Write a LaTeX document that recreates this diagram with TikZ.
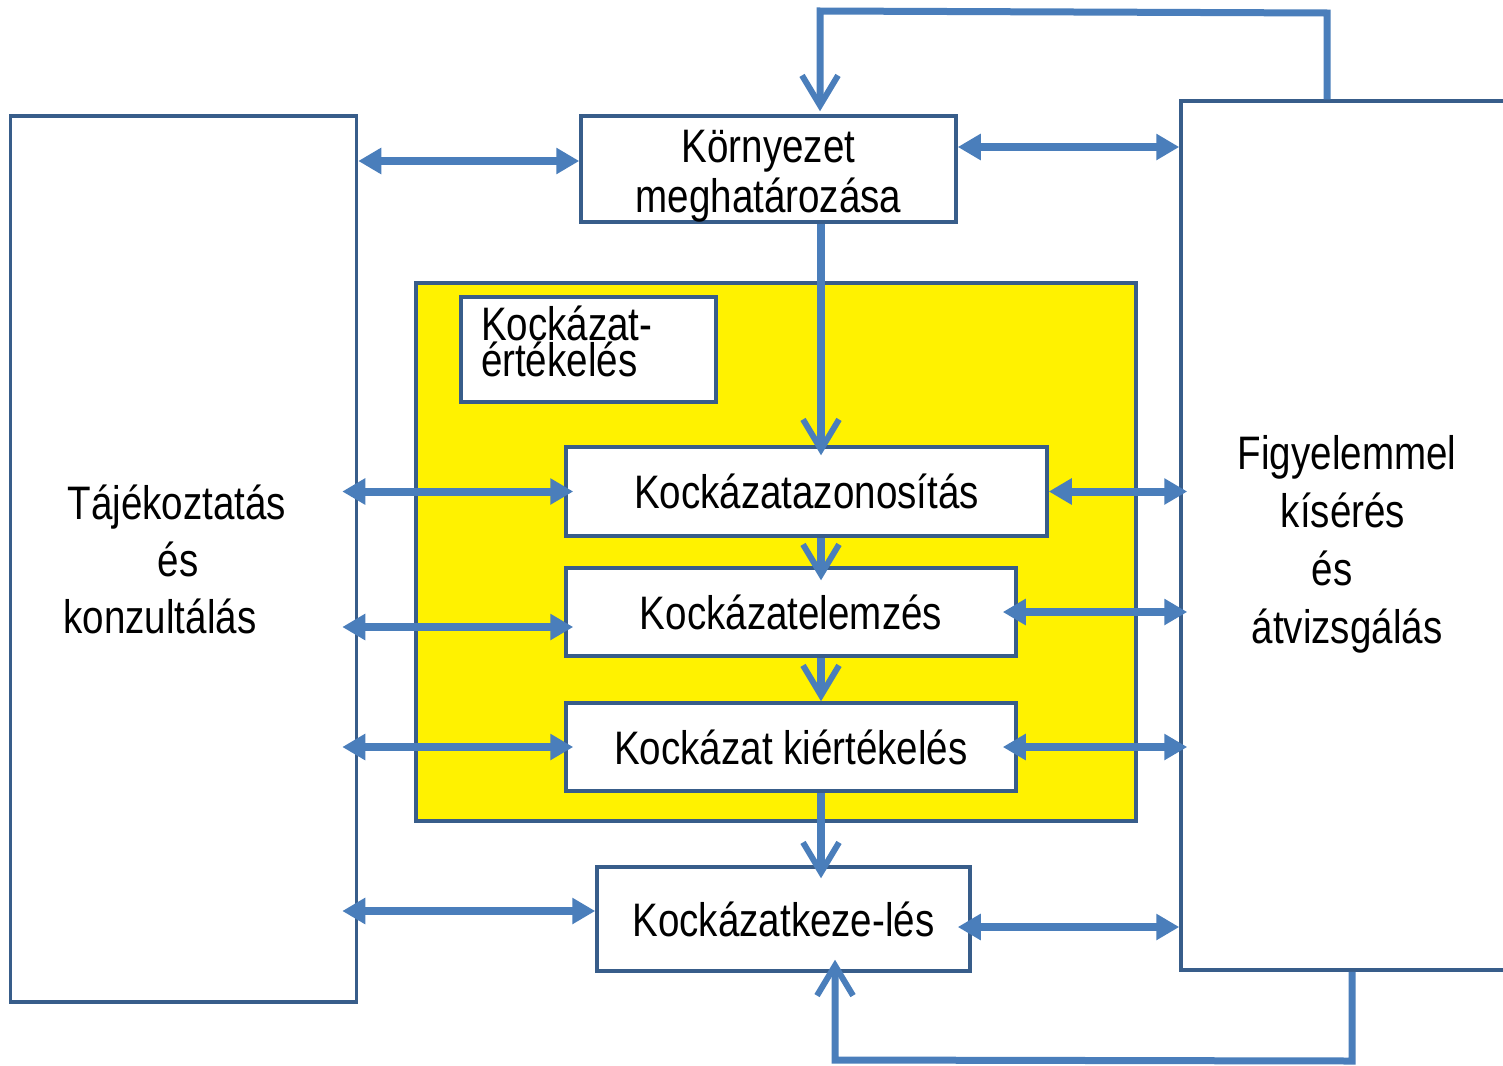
\documentclass[tikz,border=0pt]{standalone}
\usepackage{fontspec}
\setmainfont{Liberation Sans}[FakeStretch=0.82]
\usetikzlibrary{arrows.meta,calc}
\definecolor{bord}{RGB}{56,93,138}
\definecolor{arr}{RGB}{74,126,187}
\begin{document}
\begin{tikzpicture}[x=1pt,y=-1pt,
  box/.style={draw=bord,line width=3.5pt,fill=white,inner sep=0pt,align=center,
    font=\fontsize{47}{57}\selectfont},
  dbl/.style={draw=arr,line width=8pt,
    {Triangle[length=23pt,width=25pt]}-{Triangle[length=23pt,width=25pt]}},
  vtip/.style={-{Straight Barb[length=30pt,width=36pt,line width=6pt]}},
  vln/.style={draw=arr,line width=8pt,vtip},
  lp/.style={draw=arr,line width=7pt,line join=miter,vtip}]
\clip (0,0) rectangle (1503,1065);
\fill[white] (0,0) rectangle (1503,1065);

% boxes
\node[box,minimum width=346pt,minimum height=886pt] (left) at (183.5,559)
  {Tájékoztatás\kern13pt\\és\kern11pt\\konzultálás\kern47pt};
\node[box,minimum width=375pt,minimum height=104pt,font=\fontsize{47}{50}\selectfont,
  text height=96pt,text depth=10pt]
  (korny) at (768.5,169) {Környezet\\meghatározása};
\node[box,fill=yellow,minimum width=720pt,minimum height=538pt] (yel) at (776,552) {};
\node[box,minimum width=255pt,minimum height=105pt,text width=215pt,align=left,
  font=\fontsize{47}{30}\selectfont,text height=30pt,text depth=49pt]
  (ert) at (588.5,349.5) {Kockázat-\\értékelés};
\node[box,minimum width=481pt,minimum height=89pt] (azon) at (806.5,491.5) {Kockázatazonosítás};
\node[box,minimum width=450pt,minimum height=88pt] (elem) at (791,612) {Kockázatelemzés};
\node[box,minimum width=450pt,minimum height=88pt] (kiert) at (791,747) {Kockázat kiértékelés};
\node[box,minimum width=373pt,minimum height=104pt] (kezel) at (783.5,919) {Kockázatkeze-lés};
\node[box,minimum width=332pt,minimum height=869pt,font=\fontsize{47}{58}\selectfont,
  text height=225pt,text depth=10pt] (right) at (1347,535.5)
  {Figyelemmel\\kísérés\kern8pt\\és\kern30pt\\átvizsgálás};

% horizontal double arrows
\coordinate (ya) at ([yshift=8pt]korny.west);
\draw[dbl] (ya -| left.east) -- (ya);
\coordinate (yb) at ([yshift=22pt]korny.east);
\draw[dbl] (yb) -- (yb -| right.west);

\draw[dbl] ([xshift=-16pt]left.east |- azon.west) -- ([xshift=9pt]azon.west);
\draw[dbl] (azon.east) -- ([xshift=8pt]right.west |- azon.east);

\draw[dbl] ([xshift=-16pt,yshift=-15pt]left.east |- elem.west) -- ([xshift=9pt,yshift=-15pt]elem.west);
\draw[dbl] ([xshift=-15pt]elem.east) -- ([xshift=8pt]right.west |- elem.east);

\draw[dbl] ([xshift=-16pt]left.east |- kiert.west) -- ([xshift=9pt]kiert.west);
\draw[dbl] ([xshift=-15pt]kiert.east) -- ([xshift=8pt]right.west |- kiert.east);

\draw[dbl] ([xshift=-16pt,yshift=8pt]left.east |- kezel.west) -- ([yshift=8pt]kezel.west);
\draw[dbl] ([xshift=-14pt,yshift=-8pt]kezel.east) -- ([yshift=-8pt]kezel.east -| right.west);

% vertical flow
\coordinate (sp) at (821,0);
\draw[vln] (korny.south -| sp) -- ([yshift=-10pt]azon.north -| sp);
\draw[vln] (azon.south -| sp) -- ([yshift=-14pt]elem.north -| sp);
\draw[vln] (elem.south -| sp) -- (kiert.north -| sp);
\draw[vln] (kiert.south -| sp) -- ([yshift=-13pt]kezel.north -| sp);

% feedback loops
\coordinate (tr) at (1327,13);
\coordinate (tl) at (820,11);
\draw[lp] (right.north -| tr) -- (tr) -- (tl) -- ([yshift=3pt]korny.north -| tl);
\coordinate (br) at (1352,1061);
\coordinate (bl) at (835,1060);
\draw[lp] (right.south -| br) -- (br) -- (bl) -- ([yshift=13pt]kezel.south -| bl);
\end{tikzpicture}
\end{document}
